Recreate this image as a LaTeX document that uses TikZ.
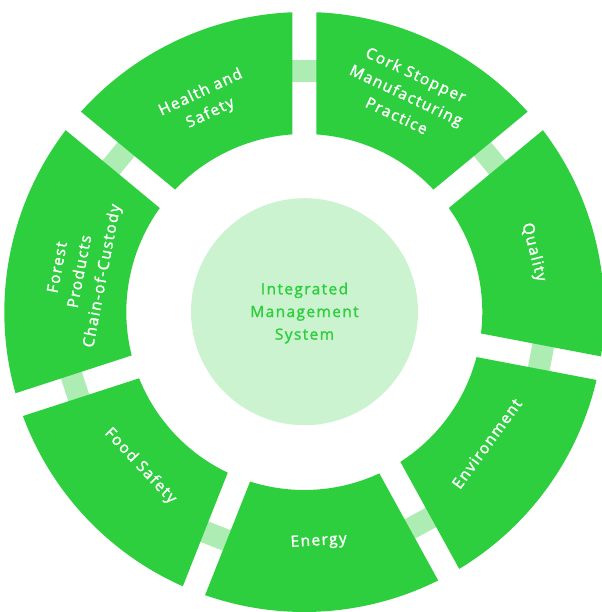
\documentclass[tikz,border=0pt]{standalone}
\usepackage{fontspec}
\newfontfamily\lblfont[LetterSpace=9,FakeBold=1.6]{Open Sans}
\definecolor{ringgreen}{HTML}{2ECF3E}
\definecolor{barlight}{HTML}{ADEDB3}
\definecolor{hubfill}{HTML}{CCF3D0}
\tikzset{
  seglabel/.style={text=white, align=center, font=\lblfont\fontsize{11.6}{17}\selectfont, inner sep=0pt},
  hublabel/.style={text=ringgreen, align=center, font=\lblfont\fontsize{11.6}{17}\selectfont, inner sep=0pt}
}
\begin{document}
\begin{tikzpicture}[x=0.75pt,y=0.75pt]
\useasboundingbox (-304.3,-300) rectangle (297.7,312);
\clip (-304.3,-300) rectangle (297.7,312);
\def\Ro{300}
\def\Ri{178}
\def\dRo{2.29}
\def\dRi{3.87}
% light bars in the gaps
\foreach \g in {90,39.6,-10.8,-61.2,-111.6,-162,-219.6}{
  \fill[barlight, rotate=\g] (230,-13) rectangle (252,13);
}
% ring segments
\foreach \a/\b in {90/39.6, 39.6/-10.8, -10.8/-61.2, -61.2/-111.6, -111.6/-162, -162/-219.6, -219.6/-270}{
  \pgfmathsetmacro{\sa}{\a-\dRo}
  \pgfmathsetmacro{\ea}{\b+\dRo}
  \pgfmathsetmacro{\si}{\b+\dRi}
  \pgfmathsetmacro{\ei}{\a-\dRi}
  \fill[ringgreen] (\sa:\Ro) arc[start angle=\sa, end angle=\ea, radius=\Ro]
     -- (\si:\Ri) arc[start angle=\si, end angle=\ei, radius=\Ri] -- cycle;
}
% hub
\fill[hubfill] (0.2,0.3) circle[radius=113.5];
\node[hublabel] (hub) at (0.2,-1) {Integrated\\Management\\System};
% labels
\node[seglabel, rotate=-25.2] (cork) at (64.8:240) {Cork Stopper\\Manufacturing\\Practice};
\node[seglabel, rotate=-75.6] (quality) at (14.6:237) {Quality};
\node[seglabel, rotate=54] (environment) at (-35.8:225) {Environment};
\node[seglabel, rotate=3.6] (energy) at (-86.4:230) {Energy};
\node[seglabel, rotate=-46.8] (food) at (-136.8:225) {Food Safety};
\node[seglabel, rotate=79.2] (forest) at (169.8:227) {Forest\\Products\\Chain-of-Custody};
\node[seglabel, rotate=25.2] (health) at (115.3:231) {Health and\\Safety};
\end{tikzpicture}
\end{document}
